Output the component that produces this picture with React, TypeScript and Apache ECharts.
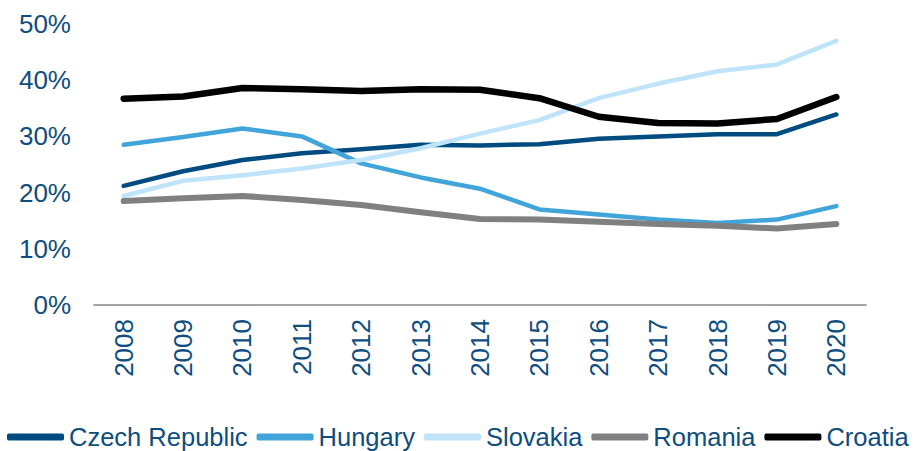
import React, { useEffect, useRef } from "react";
import * as echarts from "echarts";

const years = ["2008","2009","2010","2011","2012","2013","2014","2015","2016","2017","2018","2019","2020"];
const czech = [21.2, 23.8, 25.8, 27.0, 27.7, 28.5, 28.4, 28.6, 29.6, 30.0, 30.4, 30.4, 33.9];
const hungary = [28.5, 29.9, 31.4, 30.0, 25.2, 22.7, 20.7, 17.0, 16.1, 15.2, 14.6, 15.2, 17.6];
const slovakia = [19.4, 22.1, 23.1, 24.3, 25.8, 27.9, 30.5, 32.9, 36.8, 39.4, 41.6, 42.8, 47.0];
const romania = [18.5, 19.0, 19.4, 18.7, 17.8, 16.5, 15.3, 15.2, 14.8, 14.4, 14.1, 13.6, 14.4];
const croatia = [36.7, 37.1, 38.6, 38.4, 38.1, 38.4, 38.3, 36.8, 33.5, 32.4, 32.3, 33.1, 37.0];
const yTicks = { min: 0, max: 50, interval: 10 };

const TEXT = "#0E4D80";
const FONT = "'Liberation Sans', Arial, sans-serif";

export default function App() {
  const ref = useRef<HTMLDivElement>(null);
  useEffect(() => {
    if (!ref.current) return;
    const chart = echarts.init(ref.current, null, { renderer: "svg" });
    const mk = (name: string, data: number[], color: string, width: number) => ({
      name,
      type: "line",
      data,
      symbol: "none",
      smooth: false,
      lineStyle: { color, width, cap: "round", join: "round" },
      itemStyle: { color },
    });
    chart.setOption({
      animation: false,
      textStyle: { fontFamily: FONT },
      grid: { left: 94, right: 49, top: 24, bottom: 146, containLabel: false },
      xAxis: {
        type: "category",
        data: years,
        boundaryGap: true,
        axisLine: { show: true, lineStyle: { color: "#888888", width: 1.5 } },
        axisTick: { show: false },
        axisLabel: { rotate: 90, color: TEXT, fontSize: 26, fontFamily: FONT, margin: 14 },
      },
      yAxis: {
        type: "value",
        min: yTicks.min,
        max: yTicks.max,
        interval: yTicks.interval,
        axisLine: { show: false },
        axisTick: { show: false },
        splitLine: { show: false },
        axisLabel: { color: TEXT, fontSize: 26, fontFamily: FONT, margin: 23, formatter: (v: number) => v + "%" },
      },
      legend: {
        left: 7,
        top: 424,
        padding: 0,
        itemWidth: 57,
        itemHeight: 7,
        itemGap: 9,
        icon: "roundRect",
        textStyle: { color: TEXT, fontSize: 25.5, fontFamily: FONT },
        data: ["Czech Republic", "Hungary", "Slovakia", "Romania", "Croatia"],
      },
      series: [
        mk("Czech Republic", czech, "#004B80", 4.5),
        mk("Hungary", hungary, "#42A5DA", 4.5),
        mk("Slovakia", slovakia, "#BFE4F9", 4.5),
        mk("Romania", romania, "#808080", 6),
        mk("Croatia", croatia, "#000000", 6.5),
      ],
    });
    return () => chart.dispose();
  }, []);
  return <div ref={ref} style={{ width: 915, height: 451, position: "absolute", left: 0, top: 0 }} />;
}
